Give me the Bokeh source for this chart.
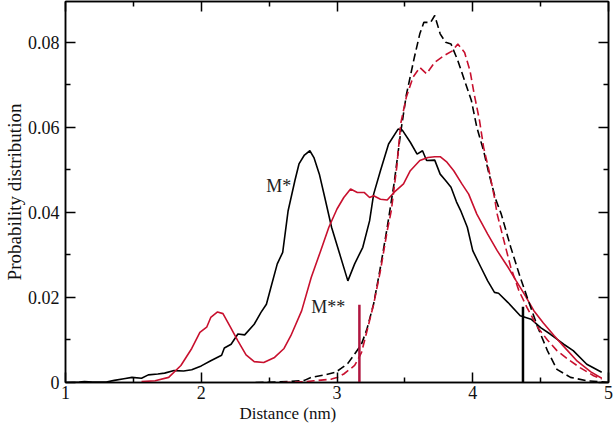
from bokeh.plotting import figure
from bokeh.models import LinearAxis, FixedTicker, Range1d, Title
from bokeh.core.properties import value
from bokeh.embed import file_html
from bokeh.resources import INLINE

# ---- data ----
black_solid_x = [1.00, 1.10, 1.14, 1.20, 1.30, 1.36, 1.43, 1.49, 1.56, 1.61, 1.68, 1.73, 1.80, 1.87, 1.93,
                 2.00, 2.07, 2.15, 2.17, 2.22, 2.27, 2.32, 2.39, 2.44, 2.48, 2.51, 2.56, 2.60, 2.64, 2.69,
                 2.72, 2.76, 2.80, 2.83, 2.87, 2.91, 2.96, 3.02, 3.08, 3.13, 3.19, 3.24, 3.27, 3.32, 3.38,
                 3.45, 3.48, 3.54, 3.59, 3.63, 3.66, 3.72, 3.76, 3.80, 3.84, 3.88, 3.91, 3.96, 4.00, 4.06,
                 4.11, 4.16, 4.19, 4.26, 4.35, 4.43, 4.50, 4.57, 4.67, 4.74, 4.84, 4.95]
black_solid_y = [0.0000, 0.0001, 0.0002, 0.0001, 0.0001, 0.0005, 0.0009, 0.0012, 0.0010, 0.0018, 0.0020,
                 0.0022, 0.0028, 0.0027, 0.0030, 0.0039, 0.0051, 0.0064, 0.0081, 0.0090, 0.0114, 0.0112,
                 0.0137, 0.0165, 0.0184, 0.0220, 0.0279, 0.0306, 0.0404, 0.0475, 0.0514, 0.0535, 0.0545,
                 0.0529, 0.0490, 0.0435, 0.0365, 0.0302, 0.0239, 0.0279, 0.0318, 0.0380, 0.0443, 0.0498,
                 0.0561, 0.0596, 0.0594, 0.0565, 0.0537, 0.0545, 0.0522, 0.0523, 0.0490, 0.0475, 0.0459,
                 0.0425, 0.0405, 0.0365, 0.0310, 0.0271, 0.0239, 0.0212, 0.0210, 0.0188, 0.0157, 0.0149,
                 0.0129, 0.0114, 0.0090, 0.0075, 0.0043, 0.0024]

red_solid_x = [1.56, 1.66, 1.76, 1.85, 1.93, 1.99, 2.04, 2.07, 2.12, 2.16, 2.21, 2.27, 2.33, 2.39, 2.46,
               2.54, 2.61, 2.66, 2.74, 2.81, 2.88, 2.94, 3.00, 3.05, 3.10, 3.15, 3.20, 3.24, 3.27, 3.32,
               3.37, 3.42, 3.49, 3.54, 3.61, 3.67, 3.72, 3.76, 3.81, 3.86, 3.92, 3.97, 4.03, 4.11, 4.18,
               4.26, 4.32, 4.38, 4.45, 4.52, 4.60, 4.67, 4.77, 4.87, 4.95]
red_solid_y = [0.0002, 0.0004, 0.0012, 0.0040, 0.0080, 0.0118, 0.0130, 0.0153, 0.0166, 0.0162, 0.0133,
               0.0098, 0.0065, 0.0049, 0.0047, 0.0059, 0.0080, 0.0110, 0.0169, 0.0247, 0.0310, 0.0365,
               0.0408, 0.0435, 0.0455, 0.0447, 0.0447, 0.0435, 0.0439, 0.0431, 0.0429, 0.0447, 0.0467,
               0.0498, 0.0522, 0.0529, 0.0531, 0.0531, 0.0518, 0.0498, 0.0467, 0.0443, 0.0396, 0.0349,
               0.0310, 0.0271, 0.0239, 0.0208, 0.0169, 0.0140, 0.0110, 0.0085, 0.0050, 0.0025, 0.0010]

black_dash_x = [2.40, 2.64, 2.76, 2.81, 2.91, 2.99, 3.03, 3.08, 3.13, 3.18, 3.22, 3.27, 3.32, 3.37, 3.42,
                3.47, 3.51, 3.57, 3.61, 3.64, 3.69, 3.72, 3.76, 3.80, 3.84, 3.89, 3.94, 3.99, 4.03, 4.08,
                4.12, 4.17, 4.21, 4.28, 4.35, 4.41, 4.48, 4.55, 4.62, 4.72, 4.84, 4.94, 5.00]
black_dash_y = [0.0000, 0.0002, 0.0005, 0.0012, 0.0018, 0.0024, 0.0033, 0.0045, 0.0067, 0.0090, 0.0125,
                0.0185, 0.0271, 0.0365, 0.0467, 0.0590, 0.0675, 0.0765, 0.0820, 0.0847, 0.0847, 0.0863,
                0.0820, 0.0800, 0.0796, 0.0757, 0.0710, 0.0663, 0.0600, 0.0545, 0.0490, 0.0430, 0.0396,
                0.0318, 0.0247, 0.0192, 0.0129, 0.0075, 0.0031, 0.0012, 0.0004, 0.0002, 0.0000]

red_dash_x = [2.60, 2.78, 2.83, 2.96, 3.00, 3.05, 3.13, 3.18, 3.22, 3.27, 3.32, 3.37, 3.40, 3.44, 3.47,
              3.51, 3.56, 3.61, 3.66, 3.72, 3.79, 3.85, 3.89, 3.94, 3.98, 4.01, 4.05, 4.08, 4.12, 4.16,
              4.18, 4.23, 4.28, 4.34, 4.40, 4.48, 4.55, 4.62, 4.70, 4.79, 4.89, 4.95]
red_dash_y = [0.0000, 0.0002, 0.0004, 0.0008, 0.0012, 0.0020, 0.0040, 0.0070, 0.0120, 0.0184, 0.0263,
              0.0357, 0.0404, 0.0506, 0.0610, 0.0670, 0.0718, 0.0741, 0.0726, 0.0753, 0.0769, 0.0780,
              0.0796, 0.0776, 0.0733, 0.0679, 0.0616, 0.0553, 0.0498, 0.0435, 0.0396, 0.0333, 0.0271,
              0.0216, 0.0176, 0.0129, 0.0100, 0.0075, 0.0055, 0.0035, 0.0016, 0.0008]

marker_x = [3.165, 4.37]
marker_top = [0.0183, 0.0178]
marker_colors = ["#b0153f", "#000000"]

annot_text = ["M*", "M**"]
annot_x = [2.478, 2.81]
annot_y = [0.0463, 0.0177]

x_ticks = [1, 2, 3, 4, 5]
x_minor = [1.5, 2.5, 3.5, 4.5]
y_ticks = [0, 0.02, 0.04, 0.06, 0.08]
y_minor = [0.01, 0.03, 0.05, 0.07]
y_tick_labels = ["0", "0.02", "0.04", "0.06", "0.08"]

x_title = "Distance (nm)"
y_title = "Probability distribution"

RED = "#c8102e"
FONT = "Liberation Serif"

p = figure(width=613, height=424, output_backend="svg", toolbar_location=None,
           x_range=Range1d(1, 5), y_range=Range1d(0, 0.0896),
           min_border_left=64, min_border_right=5, min_border_top=1, min_border_bottom=42)
p.xgrid.visible = False
p.ygrid.visible = False
p.outline_line_color = "black"
p.outline_line_width = 1.5
p.background_fill_color = "white"
p.border_fill_color = "white"


def style_axis(ax, ticks, minor):
    ax.ticker = FixedTicker(ticks=ticks, minor_ticks=minor)
    ax.axis_line_color = "black"
    ax.axis_line_width = 1.5
    ax.major_tick_in = 10
    ax.major_tick_out = 0
    ax.minor_tick_in = 5
    ax.minor_tick_out = 0
    ax.major_tick_line_color = "black"
    ax.major_tick_line_width = 1.5
    ax.minor_tick_line_color = "black"
    ax.minor_tick_line_width = 1.5
    ax.major_label_text_font = FONT
    ax.major_label_text_color = "#111111"


for ax in p.xaxis:
    style_axis(ax, x_ticks, x_minor)
    ax.major_label_text_font_size = "18px"
    ax.major_label_standoff = 3

for ax in p.yaxis:
    style_axis(ax, y_ticks, y_minor)
    ax.major_label_overrides = {t: l for t, l in zip(y_ticks, y_tick_labels)}
    ax.major_label_text_font_size = "18px"
    ax.major_label_standoff = 6
    ax.axis_label = y_title
    ax.axis_label_text_font = FONT
    ax.axis_label_text_font_style = "normal"
    ax.axis_label_text_font_size = "19px"
    ax.axis_label_text_color = "#111111"
    ax.axis_label_standoff = 0

# x-axis title, left-aligned under the frame as in the reference
xt = Title(text=x_title, align="left", offset=174, text_font=FONT, text_font_style="normal",
           text_font_size="17px", text_color="#111111", standoff=0)
p.add_layout(xt, "below")

top = LinearAxis()
style_axis(top, x_ticks, x_minor)
top.major_label_overrides = {t: "" for t in x_ticks}
top.major_label_standoff = 0
p.add_layout(top, "above")
right = LinearAxis()
style_axis(right, y_ticks, y_minor)
right.major_label_overrides = {t: "" for t in y_ticks}
right.major_label_standoff = 0
p.add_layout(right, "right")

p.line(black_solid_x, black_solid_y, line_color="black", line_width=1.6)
p.line(red_solid_x, red_solid_y, line_color=RED, line_width=1.6)
p.line(black_dash_x, black_dash_y, line_color="black", line_width=1.6, line_dash="8 4")
p.line(red_dash_x, red_dash_y, line_color=RED, line_width=1.6, line_dash="8 4")

p.segment(x0=marker_x, y0=[0, 0], x1=marker_x, y1=marker_top,
          line_color=marker_colors, line_width=2.5)

p.text(x=annot_x, y=annot_y, text=annot_text, text_font=value(FONT), text_font_size="18px",
       text_align="left", text_baseline="middle", text_color="#222222")

open("out.html", "w").write(file_html(p, INLINE))
